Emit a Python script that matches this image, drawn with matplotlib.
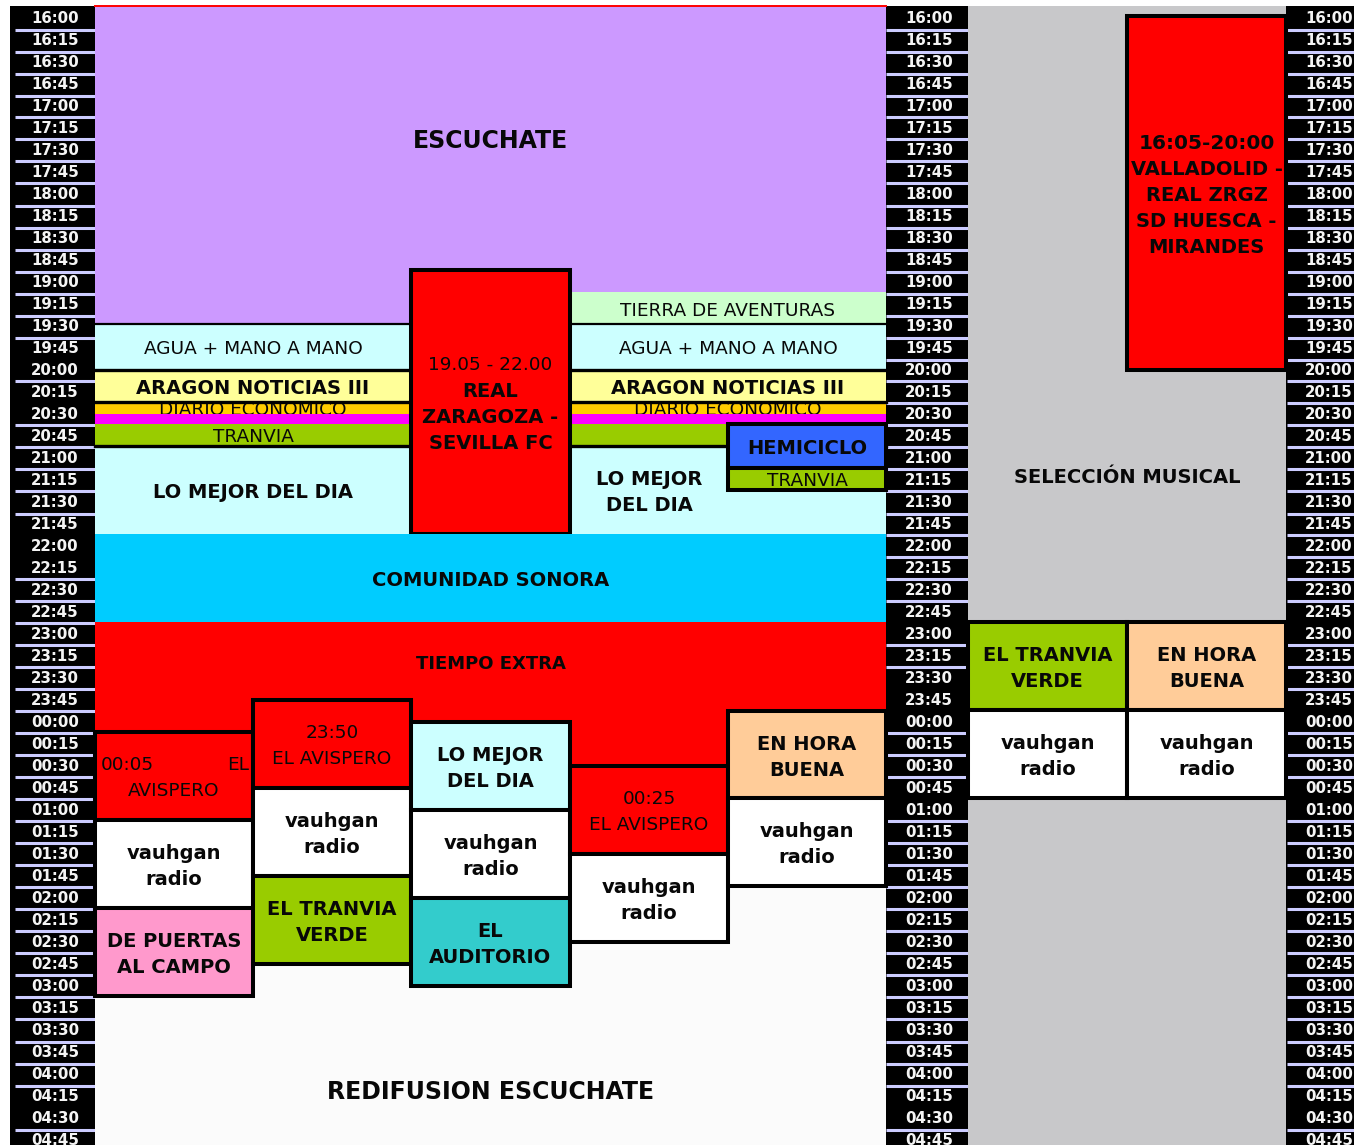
import matplotlib.pyplot as plt
from matplotlib.patches import Rectangle

# canvas is laid out in pixels; one 15 minute row of the grid is 22 px
W, H = 1354, 1145
ROW_PX = 22
Y0 = 6          # pixel row where 16:00 starts
LINE_PX = 26    # line pitch inside a cell
TEXT_DROP = 2.5 # caps sit a little below the bbox centre

MAIN_X = [95, 253, 411, 570, 728, 886]
SIDE_X = [968, 1127, 1286]
CLOCK_COLS = [(10, 95, 55), (886, 968, 929), (1286, 1354, 1329)]
SEP_X = [(15, 95), (886, 968), (1287, 1354)]

COLORS = {
    'purple': '#cc99ff', 'mint': '#ccffcc', 'ice': '#ccffff',
    'lemon': '#ffff99', 'amber': '#ffcc00', 'magenta': '#ff00ff',
    'lime': '#99cc00', 'sky': '#00ccff', 'red': '#ff0000',
    'blue': '#3366ff', 'peach': '#ffcc99', 'pink': '#ff99cc',
    'teal': '#33cccc', 'white': '#ffffff', 'paper': '#fbfbfb',
    'gray': '#c8c8ca',
}

# 16:00 ... 04:45 in quarter hours
time_labels = ['%02d:%02d' % (((16 * 60 + 15 * i) // 60) % 24, (15 * i) % 60)
               for i in range(52)]
# rows with no lavender rule above them, per clock column
missing_sep = [
    {'20:00', '20:30', '22:00', '22:15', '04:30'},
    {'23:00', '23:45', '00:00', '01:00', '04:30'},
    {'23:00', '00:00', '01:00', '04:30'},
]

# label, start, end, first col, last col, colour, style, boxed
# style: b bold, n normal, nb first line normal, j justified first line
stack_blocks = [
    ('ESCUCHATE', '16:00', '19:00', 0, 5, 'purple', 'b', False),
    ('', '19:00', '19:37', 0, 2, 'purple', 'b', False),
    ('', '19:00', '19:15', 3, 5, 'purple', 'b', False),
    ('TIERRA DE AVENTURAS', '19:15', '19:37', 3, 5, 'mint', 'n', False),
    ('AGUA + MANO A MANO', '19:37', '20:08', 0, 2, 'ice', 'n', False),
    ('AGUA + MANO A MANO', '19:37', '20:08', 3, 5, 'ice', 'n', False),
    ('ARAGON NOTICIAS III', '20:08', '20:30', 0, 2, 'lemon', 'b', False),
    ('ARAGON NOTICIAS III', '20:08', '20:30', 3, 5, 'lemon', 'b', False),
    ('DIARIO ECONOMICO', '20:30', '20:38', 0, 2, 'amber', 'n', False),
    ('DIARIO ECONOMICO', '20:30', '20:38', 3, 5, 'amber', 'n', False),
    ('', '20:38', '20:45', 0, 2, 'magenta', 'n', False),
    ('', '20:38', '20:45', 3, 5, 'magenta', 'n', False),
    ('TRANVIA', '20:45', '21:00', 0, 2, 'lime', 'n', False),
    ('', '20:45', '21:00', 3, 5, 'lime', 'n', False),
    ('LO MEJOR DEL DIA', '21:00', '22:00', 0, 2, 'ice', 'b', False),
    ('', '21:00', '22:00', 3, 5, 'ice', 'b', False),
    ('LO MEJOR\nDEL DIA', '21:00', '22:00', 3, 4, 'ice', 'b', False),
]
stack_lines = ['19:37', '20:08', '20:30', '21:00']

main_blocks = [
    ('19.05 - 22.00\nREAL\nZARAGOZA -\nSEVILLA FC', '19:00', '22:00', 2, 3, 'red', 'nb', True),
    ('HEMICICLO', '20:45', '21:15', 4, 5, 'blue', 'b', True),
    ('TRANVIA', '21:15', '21:30', 4, 5, 'lime', 'n', True),
    ('COMUNIDAD SONORA', '22:00', '23:00', 0, 5, 'sky', 'b', False),
    ('', '00:38', '05:00', 0, 5, 'paper', 'b', False),
    ('', '23:00', '00:38', 0, 5, 'red', 'b', False),
    ('00:05 EL\nAVISPERO', '00:15', '01:15', 0, 1, 'red', 'j', True),
    ('vauhgan\nradio', '01:15', '02:15', 0, 1, 'white', 'b', True),
    ('DE PUERTAS\nAL CAMPO', '02:15', '03:15', 0, 1, 'pink', 'b', True),
    ('23:50\nEL AVISPERO', '23:53', '00:53', 1, 2, 'red', 'n', True),
    ('vauhgan\nradio', '00:53', '01:53', 1, 2, 'white', 'b', True),
    ('EL TRANVIA\nVERDE', '01:53', '02:53', 1, 2, 'lime', 'b', True),
    ('LO MEJOR\nDEL DIA', '00:08', '01:08', 2, 3, 'ice', 'b', True),
    ('vauhgan\nradio', '01:08', '02:08', 2, 3, 'white', 'b', True),
    ('EL\nAUDITORIO', '02:08', '03:08', 2, 3, 'teal', 'b', True),
    ('00:25\nEL AVISPERO', '00:38', '01:38', 3, 4, 'red', 'n', True),
    ('vauhgan\nradio', '01:38', '02:38', 3, 4, 'white', 'b', True),
    ('EN HORA\nBUENA', '00:01', '01:00', 4, 5, 'peach', 'b', True),
    ('vauhgan\nradio', '01:00', '02:00', 4, 5, 'white', 'b', True),
]

side_blocks = [
    ('', '16:00', '05:00', 0, 2, 'gray', 'b', False),
    ('16:05-20:00\nVALLADOLID -\nREAL ZRGZ\nSD HUESCA -\nMIRANDES', '16:07', '20:08', 1, 2, 'red', 'b', True),
    ('EL TRANVIA\nVERDE', '23:00', '00:00', 0, 1, 'lime', 'b', True),
    ('EN HORA\nBUENA', '23:00', '00:00', 1, 2, 'peach', 'b', True),
    ('vauhgan\nradio', '00:00', '01:00', 0, 1, 'white', 'b', True),
    ('vauhgan\nradio', '00:00', '01:00', 1, 2, 'white', 'b', True),
]

# label, centre time, area, first col, last col
free_labels = [
    ('TIEMPO EXTRA', '23:27', 'main', 0, 5),
    ('SELECCIÓN MUSICAL', '21:20', 'side', 0, 2),
    ('REDIFUSION ESCUCHATE', '04:19', 'main', 0, 5),
]
SIZES = {'ESCUCHATE': 17, 'REDIFUSION ESCUCHATE': 17, 'TIEMPO EXTRA': 13,
         '16:05-20:00': 14.5}


def tmin(s):
    h, m = map(int, s.split(':'))
    v = h * 60 + m - 16 * 60
    return v + 24 * 60 if v < 0 else v


def px(n):
    return n * 15 / ROW_PX


plt.rcParams['font.family'] = ['DejaVu Sans']
fig = plt.figure(figsize=(W / 100, H / 100), dpi=100)
ax = fig.add_axes([0, 0, 1, 1])
ax.set_xlim(0, W)
ax.set_ylim(px(H - Y0), px(-Y0))
ax.axis('off')

zcount = [10]


def next_z():
    zcount[0] += 1
    return zcount[0]


def draw_text(label, x0, x1, tc, style, zo):
    lines = label.split('\n')
    n = len(lines)
    xc = (x0 + x1) / 2
    for i, line in enumerate(lines):
        t = tc + px((i - (n - 1) / 2) * LINE_PX + TEXT_DROP)
        bold = style == 'b' or (style == 'nb' and i > 0)
        fs = SIZES.get(label, SIZES.get(line, 14 if bold else 13.3))
        kw = dict(va='center', fontsize=fs, fontweight='bold' if bold else 'normal',
                  color='#080808', zorder=zo)
        if style == 'j' and i == 0 and ' ' in line:
            a, b = line.rsplit(' ', 1)
            ax.text(x0 + 6, t, a, ha='left', **kw)
            ax.text(x1 - 4, t, b, ha='right', **kw)
        else:
            ax.text(xc, t, line, ha='center', **kw)


def draw_blocks(blocks, edges):
    for label, start, end, c0, c1, colour, style, boxed in blocks:
        x0, x1 = edges[c0], edges[c1]
        t0, t1 = tmin(start), tmin(end)
        zo = next_z()
        ax.add_patch(Rectangle((x0, t0), x1 - x0, t1 - t0,
                               facecolor=COLORS[colour],
                               edgecolor='black' if boxed else 'none',
                               linewidth=2.9 if boxed else 0, zorder=zo))
        if label:
            draw_text(label, x0, x1, (t0 + t1) / 2, style, zo + 0.5)


# clock columns
for (a, b, xc), (s0, s1), miss in zip(CLOCK_COLS, SEP_X, missing_sep):
    ax.add_patch(Rectangle((a, 0), b - a, 800, facecolor='black', zorder=1))
    for i, lab in enumerate(time_labels):
        ax.text(xc, px(i * ROW_PX + ROW_PX / 2 + 1.5), lab, ha='center', va='center',
                fontsize=10.8, fontweight='bold', color='#f4f4f4', zorder=3)
        if i > 0 and lab not in miss:
            ax.plot([s0, s1], [tmin(lab) + px(1.5)] * 2, color='#ccccff',
                    lw=2.2, solid_capstyle='butt', zorder=2)

draw_blocks(stack_blocks, MAIN_X)
ax.plot([MAIN_X[0], MAIN_X[5]], [tmin('16:00') - px(0.5)] * 2, color='red',
        lw=1.4, zorder=next_z())
zl = next_z()
for t in stack_lines:
    for a, b in [(MAIN_X[0], MAIN_X[2]), (MAIN_X[3], MAIN_X[5])]:
        ax.plot([a, b], [tmin(t)] * 2, color='black',
                lw=1.6 if t == stack_lines[0] else 2.4, zorder=zl)
draw_blocks(main_blocks, MAIN_X)
draw_blocks(side_blocks, SIDE_X)

for label, t, area, c0, c1 in free_labels:
    edges = MAIN_X if area == 'main' else SIDE_X
    draw_text(label, edges[c0], edges[c1], tmin(t), 'b', 200)

fig.savefig('out.png', dpi=100)
